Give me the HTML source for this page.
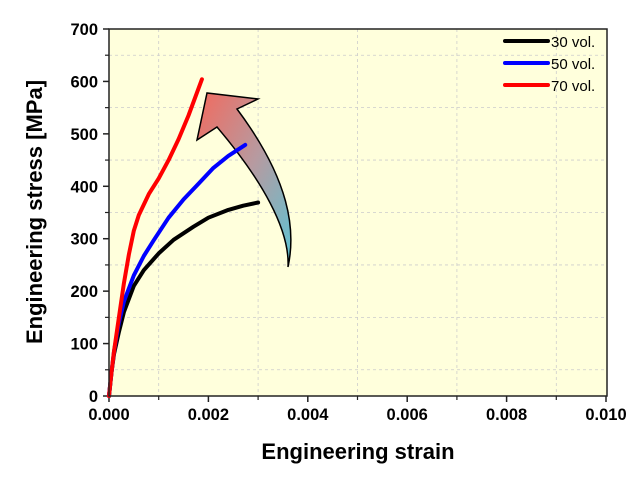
<!DOCTYPE html>
<html><head><meta charset="utf-8"><style>
body{margin:0;background:#fff;}
svg text{font-family:"Liberation Sans",Arial,sans-serif;}
</style></head><body>
<svg id="c" width="643" height="474">
<defs>
<linearGradient id="ag" x1="0" y1="0" x2="1" y2="1">
<stop offset="0" stop-color="#f26a5e"/><stop offset="0.5" stop-color="#b79aa0"/><stop offset="1" stop-color="#5cc4d4"/>
</linearGradient>
</defs>
<rect x="109" y="29" width="498" height="367" fill="#ffffdc"/>
<g id="grid"></g>
<g id="ticks"></g>
<path d="M288,267 C296,230 290,180 237,109 L258,99 L207,93 L197,140 L217,127 C262,180 290,230 288,267 Z" fill="url(#ag)" stroke="#000" stroke-width="1.5"/>
<g id="series"></g>
<rect x="109" y="29" width="498" height="367" fill="none" stroke="#222" stroke-width="1.5"/>
<g>
<line x1="505" y1="41" x2="548" y2="41" stroke="#000" stroke-width="4" stroke-linecap="round"/>
<text x="551" y="47" font-size="15">30 vol.</text>
<line x1="505" y1="63" x2="548" y2="63" stroke="#0000ff" stroke-width="4" stroke-linecap="round"/>
<text x="551" y="69" font-size="15">50 vol.</text>
<line x1="505" y1="85" x2="548" y2="85" stroke="#ff0000" stroke-width="4" stroke-linecap="round"/>
<text x="551" y="91" font-size="15">70 vol.</text>
</g>
<text x="358" y="459" font-size="22" font-weight="bold" text-anchor="middle">Engineering strain</text>
<text transform="translate(42,212) rotate(-90)" font-size="22" font-weight="bold" text-anchor="middle">Engineering stress [MPa]</text>
</svg>
<script>
const xTicks=[0,0.002,0.004,0.006,0.008,0.010];
const xTickLabels=["0.000","0.002","0.004","0.006","0.008","0.010"];
const yTicks=[0,100,200,300,400,500,600,700];
const strain30=[0,0.00005,0.0001,0.0002,0.0003,0.0005,0.0007,0.001,0.0013,0.0017,0.002,0.0024,0.0027,0.003];
const stress30=[0,45,80,122,160,210,240,272,298,323,340,355,363,369];
const strain50=[0,0.00005,0.0001,0.0002,0.0003,0.0005,0.0007,0.0009,0.0012,0.0015,0.0018,0.0021,0.0024,0.00274];
const stress50=[0,45,85,140,180,230,267,297,340,375,405,435,458,479];
const strain70=[0,0.00005,0.0001,0.0002,0.0003,0.0004,0.0005,0.0006,0.0008,0.001,0.0012,0.0014,0.0016,0.00187];
const stress70=[0,45,85,150,215,270,315,345,385,415,450,490,535,604];
const X=v=>109+v/0.01*497, Y=v=>396-v/700*367;
const NS="http://www.w3.org/2000/svg";
function mk(t,a,p){const e=document.createElementNS(NS,t);for(const k in a)e.setAttribute(k,a[k]);p.appendChild(e);return e;}
const grid=document.getElementById('grid'),ticks=document.getElementById('ticks'),ser=document.getElementById('series');
for(let i=0;i<5;i++){const v=0.001+0.002*i;const l=mk('line',{x1:X(v),x2:X(v),y1:29,y2:396,stroke:'#ccc','stroke-dasharray':'3,3','stroke-width':0.8},grid);
}
for(let i=0;i<7;i++){const v=50+100*i;const l=mk('line',{x1:109,x2:607,y1:Y(v),y2:Y(v),stroke:'#ccc','stroke-dasharray':'3,3','stroke-width':0.8},grid);
}
xTicks.forEach((v,i)=>{mk('line',{x1:X(v),x2:X(v),y1:396,y2:402,stroke:'#222','stroke-width':1.5},ticks);
if(i<5)mk('line',{x1:X(v+0.001),x2:X(v+0.001),y1:396,y2:400,stroke:'#222','stroke-width':1.2},ticks);
const t=mk('text',{x:X(v),y:420,'font-size':16.5,'font-weight':'bold','text-anchor':'middle'},ticks);t.textContent=xTickLabels[i];
});
yTicks.forEach((v,i)=>{mk('line',{x1:103,x2:109,y1:Y(v),y2:Y(v),stroke:'#222','stroke-width':1.5},ticks);
if(i<7)mk('line',{x1:105,x2:109,y1:Y(v+50),y2:Y(v+50),stroke:'#222','stroke-width':1.2},ticks);
const t=mk('text',{x:98,y:Y(v)+6,'font-size':16.5,'font-weight':'bold','text-anchor':'end'},ticks);t.textContent=v;
});
function curve(xs,ys,c,n){const d=xs.map((x,i)=>(i?'L':'M')+X(x).toFixed(1)+','+Y(ys[i]).toFixed(1)).join(' ');
const p=mk('path',{d:d,fill:'none',stroke:c,'stroke-width':4,'stroke-linecap':'round','stroke-linejoin':'round'},ser);
}
curve(strain30,stress30,'#000','series-30-vol');
curve(strain50,stress50,'#0000ff','series-50-vol');
curve(strain70,stress70,'#ff0000','series-70-vol');
</script>
</body></html>
